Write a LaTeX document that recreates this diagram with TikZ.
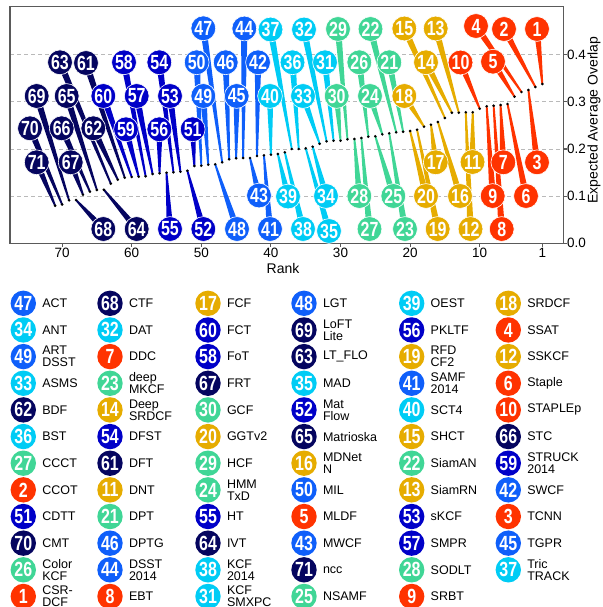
\documentclass[tikz,border=0pt]{standalone}
\usepackage{fontspec}
\setmainfont{Liberation Sans}
\newfontfamily\numfont[FakeStretch=0.78]{Liberation Sans}
\usetikzlibrary{calc}
\definecolor{grp0}{RGB}{255,51,0}
\definecolor{grp1}{RGB}{230,172,0}
\definecolor{grp2}{RGB}{64,214,150}
\definecolor{grp3}{RGB}{0,204,245}
\definecolor{grp4}{RGB}{15,95,250}
\definecolor{grp5}{RGB}{0,0,200}
\definecolor{grp6}{RGB}{5,5,95}
\definecolor{axisgray}{RGB}{90,90,90}
\tikzset{
  pinball/.style={circle, inner sep=0pt, minimum size=24.8pt, text=white, draw=white, line width=0.6pt,
    font=\numfont\bfseries\fontsize{20.5}{20.5}\selectfont},
  legball/.style={pinball, minimum size=25.4pt, draw=none},
  legtext/.style={anchor=west, align=left, inner sep=0pt, font=\fontsize{12.5}{12}\selectfont},
  ticklab/.style={inner sep=0pt, font=\fontsize{13.5}{14}\selectfont},
  gridline/.style={gray!55, dashed, dash pattern=on 4pt off 3pt, line width=0.8pt},
  axisline/.style={axisgray, line width=1.1pt}
}
\begin{document}
\begin{tikzpicture}[x=1pt,y=-1pt]
\useasboundingbox (0,0) rectangle (602,607);
% grid
\foreach \v in {0.1,0.2,0.3,0.4}
  \draw[gridline] (10,{243.3-471.5*\v}) -- (563.3,{243.3-471.5*\v});
% axes
\draw[axisline] (10,6.7) rectangle (563.3,243.3);
\foreach \r in {70,60,50,40,30,20,10,1} {
  \draw[axisline] ({549.3-6.96*\r},243.3) -- ({549.3-6.96*\r},246.5);
  \node[ticklab] (xt\r) at ({549.3-6.96*\r},253) {\r};
}
\foreach \v in {0.0,0.1,0.2,0.3,0.4} {
  \draw[axisline] (563.3,{243.3-471.5*\v}) -- (566.5,{243.3-471.5*\v});
  \node[ticklab, anchor=west] (yt\v) at (567,{243.3-471.5*\v}) {\v};
}
\node[ticklab, font=\fontsize{14}{14}\selectfont] (xlab) at (283,268) {Rank};
\node[ticklab, font=\fontsize{14}{14}\selectfont, rotate=90] (ylab) at (594,120) {Expected Average Overlap};
% data points
\foreach \yy [count=\r] in {84,87,90,92,96.7,104,105,105.7,106.3,108.7,112.3,112.3,112.7,112.7,118,122,124.7,126.7,129.7,131,131.7,132.3,133.3,134.3,136.3,136.7,138,139,139.3,140.7,140.7,141.3,143.7,146.7,148.3,149,149,152.3,154,154.7,155.3,156,158,158,158.3,159.3,162.3,164.3,164.7,165.7,166,170.7,171.7,172.3,172.7,173.3,174,176.3,176.7,177,177.7,179.7,183.7,189.7,190,191.7,194.7,200,200.3,204.5,205.7}
  \coordinate (d\r) at ({549.3-6.96*\r},\yy);
% label positions
\def\pinlist{1/537/29, 2/504/29, 3/537/162.3, 4/476/26, 5/493/61.7, 6/526/196, 7/503.3/162.3, 8/501.7/229, 9/492.7/196, 10/460.5/62.5,
 11/472.5/162, 12/470.5/229, 13/435.7/28.5, 14/426/62.3, 15/404.3/28.5, 16/460/196, 17/435.7/162.3, 18/404.3/96, 19/437.7/229, 20/426/196,
 21/389.3/62.3, 22/370.5/29, 23/405/229, 24/370/96, 25/393.3/196, 26/359.3/62.3, 27/369.5/229, 28/359.3/196, 29/338/29, 30/336.7/96,
 31/325/62.3, 32/304/29.5, 33/303/96, 34/326/196, 35/329/231, 36/292.5/62.3, 37/270.5/29.5, 38/303/229, 39/288/196.5, 40/270/96,
 41/270/229, 42/258/62.3, 43/259/195.5, 44/244.3/28.5, 45/236.7/96, 46/225.7/62.3, 47/203.3/28.3, 48/237/229, 49/203.3/96, 50/196.7/62.3,
 51/192.7/129.3, 52/203.3/229, 53/170/96, 54/159.3/62.3, 55/170/229, 56/159.3/129.3, 57/136.7/96, 58/124/62.3, 59/126/129.3, 60/103.3/96,
 61/86/63, 62/93.3/128.3, 63/60/62.3, 64/136.7/229, 65/66.7/96, 66/61.7/128.3, 67/70.7/162.3, 68/103.3/229, 69/36.7/96, 70/30/128.3, 71/36.7/162.3}
% tails
\foreach \r/\cx/\cy in \pinlist {
  \pgfmathtruncatemacro\g{min(6,int((\r-1)/10))}
  \coordinate (p\r) at (\cx,\cy);
  \fill[grp\g] ($(p\r)!3.3pt!90:(d\r)$) -- ($(d\r)!0.9pt!-90:(p\r)$) -- ($(d\r)!0.9pt!90:(p\r)$) -- ($(p\r)!3.3pt!-90:(d\r)$) -- cycle;
}
% dots
\foreach \r in {1,...,71} \fill[black] (d\r) circle (1.45pt);
% balls
\foreach \r/\cx/\cy in \pinlist {
  \pgfmathtruncatemacro\g{min(6,int((\r-1)/10))}
  \node[pinball, fill=grp\g] (c\r) at (p\r) {\r};
}
% legend
\foreach \r/\nm [count=\i from 0] in {47/ACT, 34/ANT, 49/{ART\\DSST}, 33/ASMS, 62/BDF, 36/BST, 27/CCCT, 2/CCOT, 51/CDTT, 70/CMT, 26/{Color\\KCF}, 1/{CSR-\\DCF},
 68/CTF, 32/DAT, 7/DDC, 23/{deep\\MKCF}, 14/{Deep\\SRDCF}, 54/DFST, 61/DFT, 11/DNT, 21/DPT, 46/DPTG, 44/{DSST\\2014}, 8/EBT,
 17/FCF, 60/FCT, 58/FoT, 67/FRT, 30/GCF, 20/GGTv2, 29/HCF, 24/{HMM\\TxD}, 55/HT, 64/IVT, 38/{KCF\\2014}, 31/{KCF\\SMXPC},
 48/LGT, 69/{LoFT\\Lite}, 63/{LT\_FLO}, 35/MAD, 52/{Mat\\Flow}, 65/Matrioska, 16/{MDNet\\N}, 50/MIL, 5/MLDF, 43/MWCF, 71/ncc, 25/NSAMF,
 39/OEST, 56/PKLTF, 19/{RFD\\CF2}, 41/{SAMF\\2014}, 40/SCT4, 15/SHCT, 22/SiamAN, 13/SiamRN, 53/sKCF, 57/SMPR, 28/SODLT, 9/SRBT,
 18/SRDCF, 4/SSAT, 12/SSKCF, 6/Staple, 10/STAPLEp, 66/STC, 59/{STRUCK\\2014}, 42/SWCF, 3/TCNN, 45/TGPR, 37/{Tric\\TRACK}} {
  \pgfmathtruncatemacro\g{min(6,int((\r-1)/10))}
  \pgfmathtruncatemacro\col{int(\i/12)}
  \pgfmathtruncatemacro\row{mod(\i,12)}
  \pgfmathsetmacro\lx{{23.3,110,208,304,411.7,508.3}[\col]}
  \pgfmathsetmacro\ly{303.3+26.65*\row}
  \node[legball, fill=grp\g] (l\r) at (\lx,\ly) {\r};
  \node[legtext] (t\r) at (\lx+18.8,\ly) {\nm};
}
\end{tikzpicture}
\end{document}
